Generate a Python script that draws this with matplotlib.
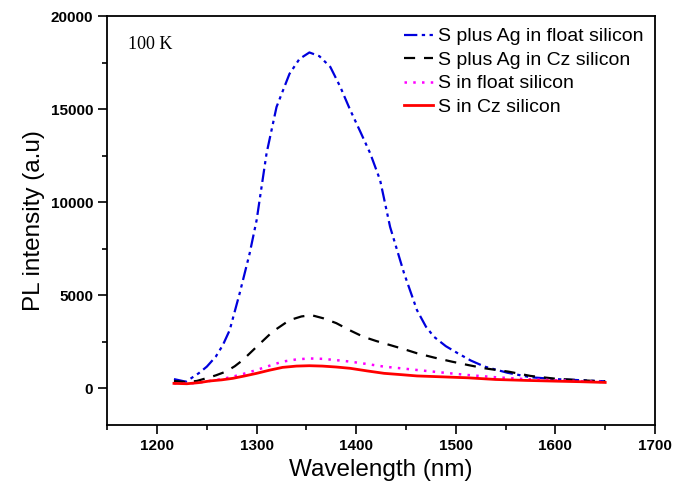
import numpy as np
import matplotlib.pyplot as plt
from matplotlib.ticker import MultipleLocator

plt.rcParams['font.family'] = ['Liberation Sans', 'DejaVu Sans']

# PL spectra at 100 K, wavelength in nm
wl_ag_fz = [1217, 1229, 1242, 1250, 1259, 1266, 1273, 1283, 1293, 1300, 1310, 1320, 1333,
            1343, 1353, 1363, 1374, 1384, 1394, 1404, 1414, 1424, 1434, 1448, 1461,
            1470, 1478, 1490, 1502, 1515, 1529, 1552, 1575, 1600, 1625, 1650]
pl_ag_fz = [480, 340, 800, 1150, 1690, 2300, 3120, 5100, 7240, 9030, 12630, 15120, 16900,
            17700, 18050, 17850, 17270, 16200, 14950, 13800, 12630, 11180, 8670, 6180, 4190,
            3300, 2760, 2250, 1870, 1480, 1150, 820, 580, 480, 420, 360]

wl_ag_cz = [1217, 1229, 1240, 1249, 1259, 1269, 1278, 1286, 1300, 1316, 1333, 1345, 1355,
            1367, 1380, 1393, 1407, 1420, 1434, 1448, 1461, 1478, 1496, 1512, 1529, 1553,
            1575, 1600, 1625, 1650]
pl_ag_cz = [380, 320, 380, 520, 680, 880, 1170, 1500, 2220, 3030, 3650, 3850, 3920,
            3750, 3490, 3120, 2760, 2530, 2310, 2090, 1870, 1640, 1420, 1240, 1060, 880,
            650, 500, 420, 350]

wl_fz = [1217, 1230, 1242, 1253, 1265, 1276, 1288, 1300, 1313, 1326, 1340, 1353, 1366,
         1380, 1394, 1411, 1428, 1445, 1461, 1487, 1512, 1540, 1570, 1600, 1625, 1650]
pl_fz = [250, 230, 290, 380, 480, 610, 780, 970, 1200, 1420, 1540, 1590, 1570,
         1500, 1420, 1290, 1150, 1060, 970, 830, 700, 580, 480, 420, 370, 320]

wl_cz = [1217, 1230, 1242, 1253, 1265, 1276, 1288, 1300, 1313, 1326, 1340, 1353, 1366,
         1380, 1394, 1411, 1428, 1445, 1461, 1487, 1512, 1540, 1570, 1600, 1625, 1650]
pl_cz = [250, 230, 290, 380, 440, 520, 650, 790, 960, 1110, 1180, 1200, 1180,
         1130, 1060, 920, 790, 720, 650, 600, 550, 460, 410, 370, 340, 300]

fig = plt.figure(figsize=(6.83, 4.91), dpi=100)
ax = fig.add_axes([0.157, 0.134, 0.802, 0.833])

ax.plot(wl_ag_fz, pl_ag_fz, color='#0000dd', lw=1.6, dashes=(6, 2, 1.5, 2, 1.5, 2),
        label='S plus Ag in float silicon')
ax.plot(wl_ag_cz, pl_ag_cz, color='black', lw=1.6, dashes=(5, 4),
        label='S plus Ag in Cz silicon')
ax.plot(wl_fz, pl_fz, color='#ff00ff', lw=1.8, dashes=(1, 2.5),
        label='S in float silicon')
ax.plot(wl_cz, pl_cz, color='red', lw=2.0, label='S in Cz silicon')

ax.set_xlim(1150, 1700)
ax.set_ylim(-2000, 20000)
ax.set_xticks([1200, 1300, 1400, 1500, 1600, 1700])
ax.xaxis.set_minor_locator(MultipleLocator(50))
ax.set_yticks([0, 5000, 10000, 15000, 20000])
ax.yaxis.set_minor_locator(MultipleLocator(2500))
ax.tick_params(which='major', direction='out', length=6.5, width=1.2, labelsize=11)
ax.tick_params(which='minor', direction='out', length=3.5, width=1.2)
for lab in ax.get_xticklabels() + ax.get_yticklabels():
    lab.set_fontweight('bold')
for sp in ax.spines.values():
    sp.set_linewidth(1.3)

ax.set_xlabel('Wavelength (nm)', fontsize=17.5)
ax.set_ylabel('PL intensity (a.u)', fontsize=17.5)

ax.text(0.038, 0.93, '100 K', transform=ax.transAxes, fontsize=13,
        family='Liberation Serif', va='center')

ax.legend(loc='upper right', frameon=False, fontsize=14, handlelength=1.5,
          handletextpad=0.25, labelspacing=0.3, borderaxespad=0.2)

fig.savefig('out.png', dpi=100)
